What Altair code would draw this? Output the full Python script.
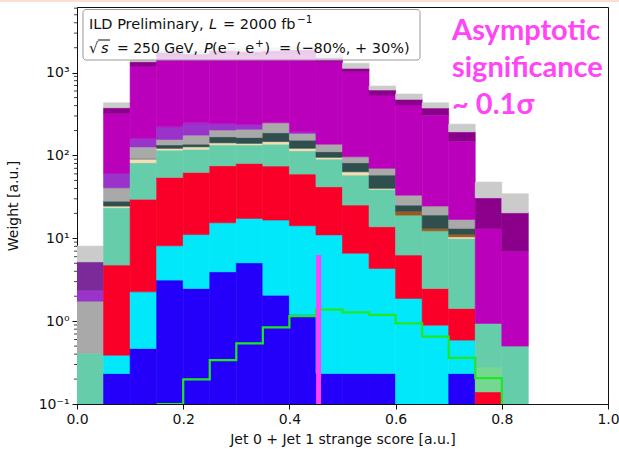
import altair as alt
import pandas as pd

# ---- histogram binning (jet 0 + jet 1 strange score) ----
bin_lo = [0.00, 0.05, 0.10, 0.15, 0.20, 0.25, 0.30, 0.35, 0.40,
          0.45, 0.50, 0.55, 0.60, 0.65, 0.70, 0.75, 0.80]
bin_hi = [0.05, 0.10, 0.15, 0.20, 0.25, 0.30, 0.35, 0.40, 0.45,
          0.50, 0.55, 0.60, 0.65, 0.70, 0.75, 0.80, 0.85]

# ---- per-process weights per bin, stacked bottom -> top ----
w_blue = [0, 0.233, 0.468, 3.13, 2.48, 3.94, 5.06, 2.06, 1.2, 0.233, 0.233, 0.233, 0, 0, 0.233, 0, 0]
w_cyan = [0, 0.155, 1.79, 4.98, 8.62, 11.46, 12.34, 14.54, 13.0, 10.77, 6.37, 4.1, 1.88, 0.895, 0.357, 0, 0]
w_red = [0, 4.36, 27.4, 46.3, 51.4, 59.7, 62.8, 57.9, 45.4, 30.9, 18.6, 9.47, 4.39, 1.585, 0.83, 0.14, 0]
w_lightgreen = [0, 0, 0, 0, 0, 0, 0, 0, 0, 0, 0, 0, 0, 0, 0, 0.14, 0]
w_teal = [0.41, 18.65, 51.9, 61.6, 56.5, 58.9, 53.8, 62.5, 54.4, 48.6, 32.8, 25.2, 12.8, 9.82, 8.55, 0.66, 0.5]
w_wheat = [0, 1.1, 8.9, 6, 8, 8, 6, 10, 8, 4.5, 5.5, 1.1, 0, 0, 0.43, 0, 0]
w_brown = [0, 0, 0, 0, 0, 0, 0, 0, 0, 0, 0, 0, 2.2, 0.9, 0.8, 0, 0]
w_slate = [0, 3.6, 1.5, 12, 10, 26, 25, 41, 31, 16, 18.1, 17.9, 3.9, 5.9, 2, 0, 0]
w_gray = [1.33, 12.6, 35, 22, 39, 35, 42, 60, 32, 26, 14.8, 11.9, 8, 5.4, 3.7, 0, 0]
w_orchid = [0.63, 20.1, 34, 66, 72, 41, 30, 0, 8, 0, 0, 0, 0, 0, 0, 0, 0]
w_purple = [2.83, 0, 0, 0, 0, 0, 0, 0, 0, 0, 0, 0, 0, 0, 0, 0, 0]
w_magenta = [0, 261, 1041, 1364, 1277, 1416, 1383, 1412, 1507, 1243, 930, 466, 373, 282.5, 132, 12.26, 6.5]
w_darkmagenta = [0, 55, 153, 172, 165, 180, 175, 180, 186, 142, 101, 81, 70, 67, 44, 17.6, 13.3]
w_lightgray = [2.85, 56, 64, 153, 147, 160, 155, 160, 164, 133, 168, 73, 76, 59, 46, 17, 14.2]

proc_names = ["blue", "cyan", "red", "lightgreen", "teal", "wheat", "brown", "slate",
              "gray", "orchid", "purple", "magenta", "darkmagenta", "lightgray"]
proc_weights = [w_blue, w_cyan, w_red, w_lightgreen, w_teal, w_wheat, w_brown, w_slate,
                w_gray, w_orchid, w_purple, w_magenta, w_darkmagenta, w_lightgray]
proc_colors = ["#2400FA", "#00E8FA", "#FA0028", "#74D892", "#66CDAA", "#F5DEB3", "#9C5A1E",
               "#2F4F4F", "#A9A9A9", "#9A33CA", "#7B2A9A", "#BB00BB", "#8B008B", "#CBCBCB"]

# ---- signal outline (step histogram) ----
sig_edges = [0.15, 0.20, 0.25, 0.30, 0.35, 0.40, 0.45, 0.50, 0.55, 0.60, 0.65, 0.70, 0.75, 0.80]
sig_values = [0.1, 0.198, 0.338, 0.54, 0.84, 1.15, 1.38, 1.28, 1.19, 0.94, 0.65, 0.36, 0.205, 0.1]

# ---- cut position ----
cut_x = [0.455]
cut_y0 = [0.1]
cut_y1 = [6.3]

# y-axis ticks
y_major = [0.1, 1, 10, 100, 1000]
y_minor = [m * d for d in [0.1, 1, 10, 100, 1000] for m in [2, 3, 4, 5, 6, 7, 8, 9] if m * d < 6200]

# build stacked rectangles
rows = []
for b in range(len(bin_lo)):
    cum = 0.0
    for name, w in zip(proc_names, proc_weights):
        v = w[b]
        if v > 0:
            rows.append({"x0": bin_lo[b], "x1": bin_hi[b], "bottom": max(cum, 1e-3),
                         "top": cum + v, "process": name})
            cum += v
bars_df = pd.DataFrame(rows)

W, H = 531, 397
OX, OY = 77, 7  # plot origin on the page

xs = alt.Scale(domain=[0, 1], nice=False, zero=False)
ys = alt.Scale(type="log", domain=[0.1, 6200], nice=False)
proc_scale = alt.Scale(domain=proc_names, range=proc_colors)

label_expr = ("datum.value < 0.5 ? '10⁻¹' : datum.value < 5 ? '10⁰' : "
              "datum.value < 50 ? '10¹' : datum.value < 500 ? '10²' : '10³'")

x_axis = alt.Axis(values=[0, 0.2, 0.4, 0.6, 0.8, 1.0], format=".1f", labelFlush=False,
                  title="Jet 0 + Jet 1 strange score [a.u.]", titlePadding=6)
y_axis = alt.Axis(values=y_major, labelExpr=label_expr, labelFlush=False,
                  title="Weight [a.u.]", titlePadding=18)

bars = alt.Chart(bars_df).mark_rect(clip=True, strokeWidth=0.6).encode(
    x=alt.X("x0:Q", scale=xs, axis=x_axis),
    x2="x1:Q",
    y=alt.Y("bottom:Q", scale=ys, axis=y_axis),
    y2="top:Q",
    color=alt.Color("process:N", scale=proc_scale, legend=None),
    stroke=alt.Stroke("process:N", scale=proc_scale, legend=None),
)

minor_ticks = alt.Chart(pd.DataFrame({"m": y_minor})).mark_rule(
    color="#111111", strokeWidth=0.8).encode(
    y=alt.Y("m:Q", scale=ys, axis=y_axis),
    x=alt.value(-3), x2=alt.value(0))

signal = alt.Chart(pd.DataFrame({"x": sig_edges, "y": sig_values})).mark_line(
    interpolate="step-after", color="#22E622", strokeWidth=2.2, clip=True).encode(
    x=alt.X("x:Q", scale=xs, axis=x_axis), y=alt.Y("y:Q", scale=ys, axis=y_axis))

cut = alt.Chart(pd.DataFrame({"x": cut_x, "y0": cut_y0, "y1": cut_y1})).mark_rule(
    color="#FF40FF", strokeWidth=5).encode(
    x=alt.X("x:Q", scale=xs, axis=x_axis), y=alt.Y("y0:Q", scale=ys, axis=y_axis), y2="y1:Q")

one = pd.DataFrame({"k": [0]})

box = alt.Chart(one).mark_rect(fill="white", fillOpacity=0.8, stroke="#999999",
                               strokeWidth=1, cornerRadius=3).encode(
    x=alt.value(83 - OX), x2=alt.value(420 - OX),
    y=alt.value(9.5 - OY), y2=alt.value(60 - OY))


def txt(s, px, py, size=14.5, style="normal", weight="normal", color="#111111",
        font="DejaVu Sans"):
    return alt.Chart(one).mark_text(
        align="left", baseline="alphabetic", font=font, fontSize=size,
        fontStyle=style, fontWeight=weight, color=color, text=s).encode(
        x=alt.value(px - OX), y=alt.value(py - OY))


texts = [
    txt("ILD Preliminary,", 89, 29),
    txt("L", 209, 29, style="italic"),
    txt("= 2000 fb", 223, 29),
    txt("−1", 297, 23, size=10.5),
    txt("√", 89, 53),
    txt("s", 101, 53, style="italic"),
    txt("= 250 GeV,", 117, 53, size=14),
    txt("P", 204, 53, style="italic"),
    txt("(e", 212, 53),
    txt("−", 227, 47, size=10.5),
    txt(", e", 236, 53),
    txt("+", 255, 47, size=10.5),
    txt(")", 264.5, 53),
    txt("= (−80%, + 30%)", 279, 53),
]
overline = alt.Chart(one).mark_rule(color="#111111", strokeWidth=1).encode(
    x=alt.value(98 - OX), x2=alt.value(110 - OX), y=alt.value(40 - OY))

note_color = "#FF45F5"
notes = [
    txt("Asymptotic", 452, 40, size=29, weight="bold", color=note_color, font="Lato"),
    txt("significance", 452, 77, size=29, weight="bold", color=note_color, font="Lato"),
    txt("~ 0.1σ", 452, 114, size=29, weight="bold", color=note_color, font="Lato"),
]

top_band = alt.Chart(one).mark_rect(color="#F9E0CF").encode(
    x=alt.value(-OX), x2=alt.value(619 - OX), y=alt.value(-OY), y2=alt.value(2 - OY))

chart = alt.layer(bars, minor_ticks, signal, cut, box, overline, *texts, *notes, top_band).properties(
    width=W, height=H,
    padding={"left": OX, "top": OY, "right": 619 - OX - W, "bottom": 449 - OY - H},
    autosize=alt.AutoSizeParams(type="none"),
).configure_view(stroke="#111111", strokeWidth=1).configure_axis(
    grid=False, domainColor="#111111", tickColor="#111111", tickSize=5,
    labelColor="#111111", titleColor="#111111",
    labelFont="DejaVu Sans", titleFont="DejaVu Sans",
    labelFontSize=14, titleFontSize=14, titleFontWeight="normal", labelPadding=3,
)

chart.save("out.html", embed_options={"renderer": "svg", "actions": False})
